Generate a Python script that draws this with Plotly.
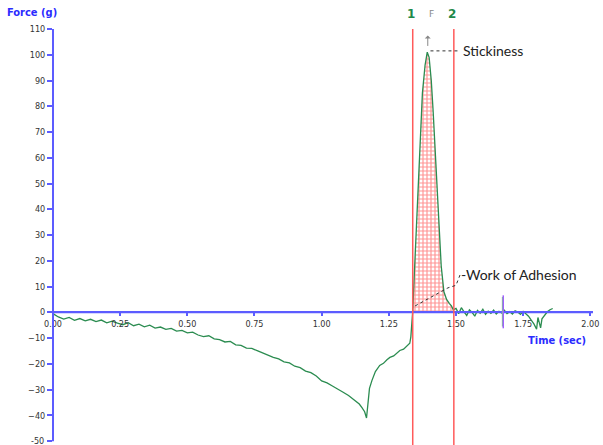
import plotly.graph_objects as go

# ---- data ----
time_s = [0.00, 0.02, 0.04, 0.06, 0.08, 0.10, 0.12, 0.14, 0.16, 0.18,
          0.20, 0.22, 0.24, 0.26, 0.28, 0.30, 0.32, 0.34, 0.36, 0.38,
          0.40, 0.42, 0.44, 0.46, 0.48, 0.50, 0.52, 0.54, 0.56, 0.58,
          0.60, 0.62, 0.64, 0.66, 0.68, 0.70, 0.72, 0.74, 0.76, 0.78,
          0.80, 0.82, 0.84, 0.86, 0.88, 0.90, 0.92, 0.94, 0.96, 0.98,
          1.00, 1.02, 1.04, 1.06, 1.08, 1.10, 1.12, 1.14, 1.15, 1.16,
          1.167, 1.172, 1.178, 1.187, 1.20, 1.216, 1.23, 1.243, 1.254, 1.268,
          1.28, 1.291, 1.305, 1.321, 1.328, 1.332, 1.336, 1.339,
          1.345, 1.355, 1.365, 1.375, 1.385, 1.393, 1.400, 1.408, 1.415, 1.423,
          1.430, 1.438, 1.445, 1.455, 1.465, 1.475, 1.483, 1.490,
          1.50, 1.51, 1.52, 1.53, 1.54, 1.55, 1.56, 1.57, 1.58, 1.59,
          1.60, 1.61, 1.62, 1.63, 1.64, 1.65, 1.66, 1.67, 1.68, 1.69,
          1.70, 1.71, 1.72, 1.73, 1.74, 1.75, 1.76, 1.77, 1.78, 1.79,
          1.80, 1.805, 1.81, 1.815, 1.82, 1.83, 1.84, 1.85, 1.86]
force_g = [-0.5, -1.8, -2.6, -2.0, -3.1, -2.4, -3.3, -2.7, -3.6, -3.0,
           -4.1, -3.4, -4.2, -4.8, -4.0, -5.2, -4.6, -5.6, -5.0, -6.1,
           -5.7, -6.6, -6.2, -7.3, -7.0, -8.0, -7.7, -8.8, -9.4, -9.1,
           -10.3, -10.6, -11.5, -11.3, -12.6, -12.8, -13.9, -14.0, -14.9, -15.8,
           -16.4, -17.5, -18.1, -19.2, -19.6, -20.9, -21.5, -22.8, -23.4, -24.7,
           -26.6, -27.4, -28.6, -29.7, -31.0, -32.3, -34.0, -35.6, -37.0, -38.6,
           -41.0, -34.0, -29.5, -26.5, -23.0, -20.6, -19.8, -18.4, -17.5, -16.9,
           -15.9, -14.8, -14.3, -12.8, -12.0, -9.5, -5.0, 0.5,
           15.0, 40.0, 65.0, 85.0, 96.0, 101.0, 99.0, 90.0, 78.0, 62.0,
           45.0, 30.0, 18.0, 8.0, 5.0, 3.5, 2.5, 1.0,
           1.5, -0.5, 1.8, 0.2, -1.2, 1.0, 0.0, -1.5, 0.8, -0.3,
           1.2, -0.8, 0.5, -0.4, 0.9, -0.6, 0.4, -0.2, 0.8, -0.5,
           0.3, -0.7, 0.6, 0.1, -0.8, 0.4, -0.6, -1.5, -3.0, -4.5,
           -6.5, -2.0, -4.0, -6.0, -2.5, -1.0, 0.2, 1.0, 1.5]

x_ticks = [0.00, 0.25, 0.50, 0.75, 1.00, 1.25, 1.50, 1.75, 2.00]
x_tick_labels = ["0.00", "0.25", "0.50", "0.75", "1.00", "1.25", "1.50", "1.75", "2.00"]
y_ticks = list(range(-50, 111, 10))
anchor_times = [1.339, 1.492]          # red markers "1" and "2"
anchor_labels = ["1", "2"]
peak_time, peak_force = 1.395, 101.5
marker_time = 1.676

BLUE = "#5c5cff"
GREEN = "#2b8c50"
RED = "#ff5a5a"
TICKFONT = dict(family="Liberation Sans Narrow, DejaVu Sans Condensed, Arial", size=9, color="#333333")

Y_MIN, Y_MAX = -51.5, 110

# area between the two anchors (work of adhesion)
fx, fy = [], []
for t, f in zip(time_s, force_g):
    if anchor_times[0] <= t <= anchor_times[1]:
        fx.append(t)
        fy.append(max(f, 0))
fx = [anchor_times[0]] + fx + [anchor_times[1]]
fy = [0] + fy + [0]

fig = go.Figure()
fig.add_trace(go.Scatter(
    x=fx, y=fy, mode="lines", line=dict(width=0), fill="tozeroy",
    fillcolor="rgba(0,0,0,0)",
    fillpattern=dict(shape="+", fgcolor="#ff2a2a", size=4, solidity=0.5),
    hoverinfo="skip", showlegend=False))
fig.add_trace(go.Scatter(
    x=time_s, y=force_g, mode="lines",
    line=dict(color=GREEN, width=1.3), showlegend=False))

shapes = []
for t in anchor_times:
    shapes.append(dict(type="line", xref="x", yref="paper", x0=t, x1=t, y0=-0.02, y1=1.0,
                       line=dict(color=RED, width=1.5)))
shapes.append(dict(type="line", xref="x", yref="y", x0=0, x1=2.01, y0=0, y1=0,
                   line=dict(color=BLUE, width=2), layer="below"))
# y axis line stopping at -50
shapes.append(dict(type="line", xref="paper", yref="y", x0=0, x1=0, y0=y_ticks[0], y1=y_ticks[-1],
                   line=dict(color=BLUE, width=2)))
# small marker at 1.676
shapes.append(dict(type="line", xref="x", yref="y", x0=marker_time - 0.003, x1=marker_time - 0.003,
                   y0=-5.5, y1=6.0, line=dict(color="#7fd47f", width=1.2)))
shapes.append(dict(type="line", xref="x", yref="y", x0=marker_time, x1=marker_time,
                   y0=-6.2, y1=6.6, line=dict(color="#a060ff", width=1.5)))
# leader lines
shapes.append(dict(type="line", xref="x", yref="y", x0=peak_time + 0.01, x1=1.515,
                   y0=peak_force, y1=peak_force, line=dict(color="#333333", width=1, dash="dot")))
shapes.append(dict(type="path", xref="x", yref="y",
                   path="M 1.348 2.5 L 1.47 9.5 L 1.50 10.5 L 1.515 14.5",
                   line=dict(color="#333333", width=1, dash="dot")))

annotations = [
    dict(text="<b>Force (g)</b>", xref="paper", yref="paper", x=-0.088, y=1.04,
         xanchor="left", yanchor="middle", showarrow=False,
         font=dict(family="DejaVu Sans Condensed, Arial", size=11, color="#2b2bff")),
    dict(text="<b>Time (sec)</b>", xref="x", yref="y", x=1.99, y=-11.0,
         xanchor="right", yanchor="middle", showarrow=False,
         font=dict(family="DejaVu Sans Condensed, Arial", size=11, color="#2b2bff")),
    dict(text="Stickiness", xref="x", yref="y", x=1.52, y=peak_force,
         xanchor="left", yanchor="middle", showarrow=False,
         font=dict(family="Lato, Arial", size=14, color="#222222")),
    dict(text="-Work of Adhesion", xref="x", yref="y", x=1.51, y=14.5,
         xanchor="left", yanchor="middle", showarrow=False,
         font=dict(family="Lato, Arial", size=14, color="#222222")),
    dict(text="", xref="x", yref="y", x=peak_time, y=107.5, ax=0, ay=12,
         showarrow=True, arrowhead=1, arrowsize=1, arrowwidth=1, arrowcolor="#888888"),
    dict(text="F", xref="x", yref="paper", x=peak_time + 0.014, y=1.035,
         xanchor="center", yanchor="middle", showarrow=False,
         font=dict(family="DejaVu Sans", size=9, color="#888888")),
    # bottom tick label (hidden by plotly because it touches the page edge)
    dict(text=str(y_ticks[0]), xref="paper", yref="y", x=0, y=y_ticks[0], xshift=-7,
         xanchor="right", yanchor="middle", showarrow=False, font=TICKFONT),
]
for t, lab in zip(anchor_times, anchor_labels):
    annotations.append(dict(text="<b>" + lab + "</b>", xref="x", yref="paper", x=t - 0.005, y=1.035,
                            xanchor="center", yanchor="middle", showarrow=False,
                            font=dict(family="DejaVu Sans, Arial", size=12, color="#1e8a4a")))

fig.update_layout(
    width=603, height=445,
    margin=dict(l=53, r=10, t=29, b=0),
    paper_bgcolor="white", plot_bgcolor="white",
    shapes=shapes, annotations=annotations,
    xaxis=dict(range=[0, 2.01], tickvals=x_ticks, ticktext=x_tick_labels,
               showgrid=False, zeroline=False, showline=True, linecolor=BLUE, linewidth=2,
               ticks="outside", ticklen=3, tickwidth=1.5, tickcolor=BLUE,
               tickfont=TICKFONT, anchor="free", position=(0 - Y_MIN) / (Y_MAX - Y_MIN),
               automargin=False),
    yaxis=dict(range=[Y_MIN, Y_MAX], tickvals=y_ticks, showgrid=False, zeroline=False,
               showline=False,
               ticks="outside", ticklen=5, tickwidth=1.5, tickcolor=BLUE,
               tickfont=TICKFONT, automargin=False),
)

# remove the default 8px page margin so the figure fills the window exactly
fig.write_html("out.html", config={"displayModeBar": False},
               post_script="document.body.style.margin='0';document.body.style.overflow='hidden';")
